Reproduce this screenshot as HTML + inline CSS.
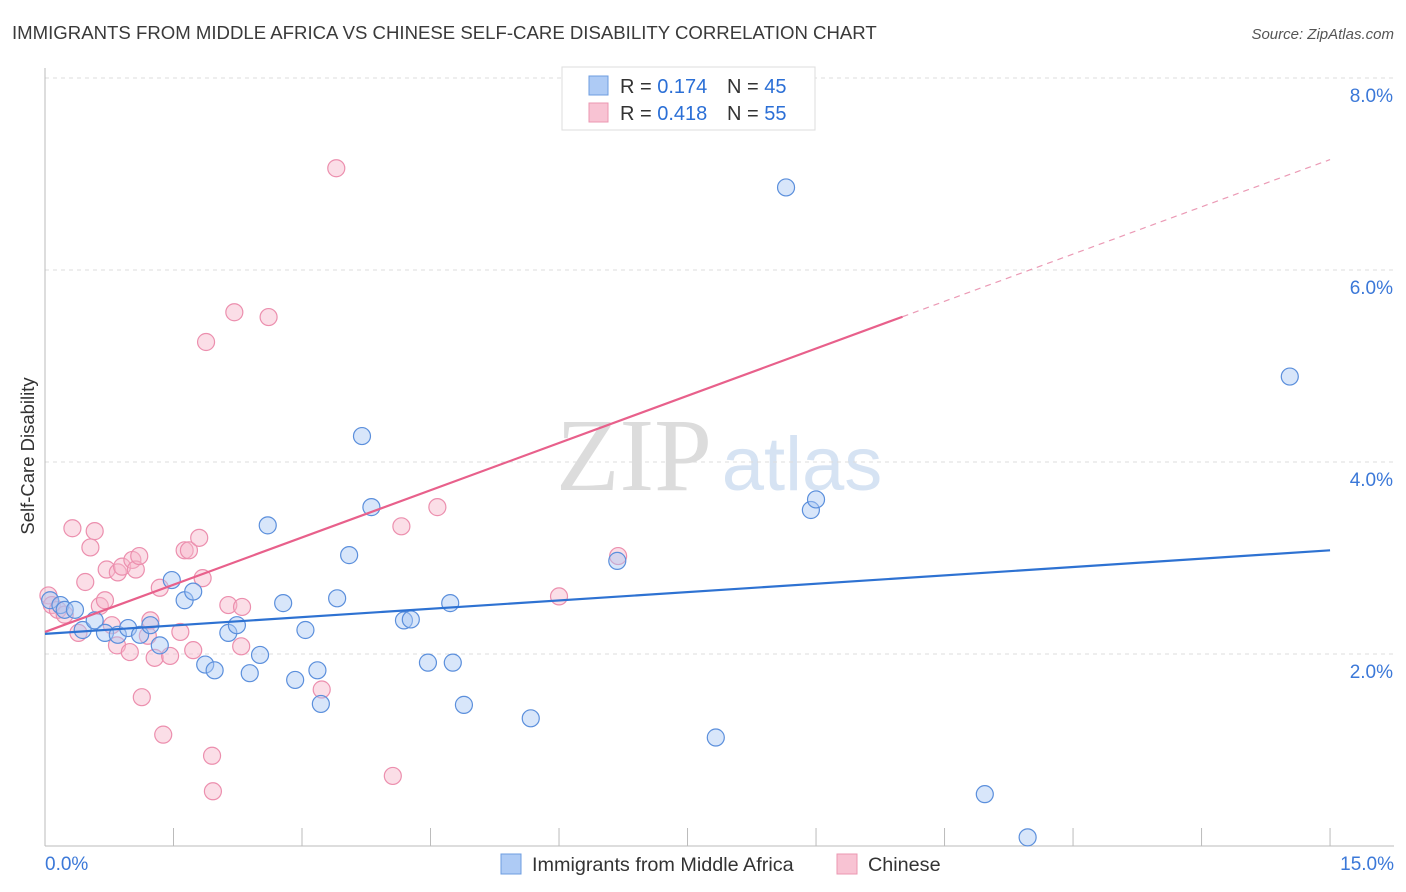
<!DOCTYPE html>
<html><head><meta charset="utf-8"><style>
body{margin:0;background:#fff;font-family:"Liberation Sans",sans-serif;}
#wrap{position:relative;width:1406px;height:892px;overflow:hidden;}
</style></head><body>
<div id="wrap">
<svg id="svg" width="1406" height="892" xmlns="http://www.w3.org/2000/svg">
<text x="12" y="39" font-size="18.6" fill="#3a3a3a">IMMIGRANTS FROM MIDDLE AFRICA VS CHINESE SELF-CARE DISABILITY CORRELATION CHART</text>
<text x="1394" y="39" font-size="15" fill="#555" font-style="italic" text-anchor="end">Source: ZipAtlas.com</text>
<text x="634" y="490" font-size="104" fill="#dcdcdc" font-family="Liberation Serif,serif" text-anchor="middle">ZIP</text>
<text x="802" y="490" font-size="76" fill="#d6e3f3" text-anchor="middle">atlas</text>
<text transform="translate(34,456) rotate(-90)" font-size="18.5" fill="#333" text-anchor="middle">Self-Care Disability</text>
<g id="grid"></g><g id="marks"></g>
<g>
<rect x="562" y="67" width="253" height="63" fill="#fff" stroke="#ddd"/>
<rect x="589" y="76" width="19" height="19" fill="#aecbf5" stroke="#6d9de0"/>
<rect x="589" y="103" width="19" height="19" fill="#f8c3d3" stroke="#eb97b2"/>
<text x="620" y="93" font-size="20" fill="#333">R = <tspan fill="#2b6fd6">0.174</tspan></text>
<text x="727" y="93" font-size="20" fill="#333">N = <tspan fill="#2b6fd6">45</tspan></text>
<text x="620" y="120" font-size="20" fill="#333">R = <tspan fill="#2b6fd6">0.418</tspan></text>
<text x="727" y="120" font-size="20" fill="#333">N = <tspan fill="#2b6fd6">55</tspan></text>
</g>
<g>
<rect x="501" y="854" width="20" height="20" fill="#aecbf5" stroke="#6d9de0"/>
<text x="532" y="871" font-size="19.8" fill="#333">Immigrants from Middle Africa</text>
<rect x="837" y="854" width="20" height="20" fill="#f8c3d3" stroke="#eb97b2"/>
<text x="868" y="871" font-size="19.8" fill="#333">Chinese</text>
</g>
</svg>
</div>
<script>
const blueX=[0.06,0.18,0.23,0.35,0.44,0.58,0.70,0.85,0.97,1.11,1.23,1.34,1.48,1.63,1.73,1.87,1.98,2.14,2.24,2.39,2.51,2.60,2.78,2.92,3.04,3.18,3.22,3.41,3.55,3.70,3.81,4.19,4.27,4.47,4.73,4.76,4.89,5.67,6.68,7.83,8.65,8.94,9.00,10.97,11.47,14.53];
const blueY=[2.56,2.51,2.46,2.46,2.25,2.35,2.22,2.20,2.27,2.20,2.30,2.09,2.77,2.56,2.65,1.89,1.83,2.22,2.30,1.80,1.99,3.34,2.53,1.73,2.25,1.83,1.48,2.58,3.03,4.27,3.53,2.35,2.36,1.91,2.53,1.91,1.47,1.33,2.97,1.13,6.86,3.50,3.61,0.54,0.09,4.89];
const pinkX=[0.04,0.08,0.15,0.23,0.32,0.39,0.47,0.53,0.58,0.64,0.70,0.72,0.78,0.84,0.85,0.90,0.99,1.02,1.06,1.10,1.13,1.20,1.23,1.28,1.34,1.38,1.46,1.58,1.63,1.68,1.73,1.80,1.84,1.88,1.95,1.96,2.14,2.21,2.29,2.30,2.61,3.23,3.40,4.06,4.16,4.58,6.00,6.69,8.29];
const pinkY=[2.61,2.51,2.46,2.41,3.31,2.22,2.75,3.11,3.28,2.50,2.56,2.88,2.30,2.09,2.85,2.91,2.02,2.98,2.88,3.02,1.55,2.19,2.35,1.96,2.69,1.16,1.98,2.23,3.08,3.08,2.04,3.21,2.79,5.25,0.94,0.57,2.51,5.56,2.08,2.49,5.51,1.63,7.06,0.73,3.33,3.53,2.60,3.02,7.98];
const blueTrend=[2.21,3.08];
const pinkTrend=[2.23,7.15];
const pinkSolidEnd=10.01;
const yTicks=[2,4,6,8];
const xTickLabels=["0.0%","15.0%"];
const NS="http://www.w3.org/2000/svg";
const xs=v=>45+v*85.67, ys=v=>846-v*96;
const grid=document.getElementById('grid'), marks=document.getElementById('marks');
function mk(tag,attrs,parent){const e=document.createElementNS(NS,tag);for(const k in attrs)e.setAttribute(k,attrs[k]);parent.appendChild(e);return e;}
yTicks.forEach(t=>{
 const l=mk('line',{x1:45,x2:1394,y1:ys(t),y2:ys(t),stroke:'#ddd','stroke-dasharray':'4,4'},grid);
 
 
 const tx=mk('text',{x:1393,y:ys(t)+24,'font-size':19,fill:'#3b78d8','text-anchor':'end'},grid);
 tx.textContent=t.toFixed(1)+'%';
 
 
});
const ax=mk('line',{x1:45,x2:1394,y1:846,y2:846,stroke:'#bbb'},grid);


const ay=mk('line',{x1:45,x2:45,y1:68,y2:846,stroke:'#bbb'},grid);


for(let i=0;i<=10;i++){const t=mk('line',{x1:xs(i*1.5),x2:xs(i*1.5),y1:828,y2:846,stroke:'#bbb'},grid);
 
 }
[[0,'start',45],[15,'end',1394]].forEach((a,i)=>{const t=mk('text',{x:a[2],y:870,'font-size':19,fill:'#3b78d8','text-anchor':a[1]},grid);t.textContent=xTickLabels[i];
 
 });
function dots(X,Y,fill,stroke,name){X.forEach((x,i)=>{const c=mk('circle',{cx:xs(x),cy:ys(Y[i]),r:8.5,fill:fill,'fill-opacity':0.45,stroke:stroke,'stroke-width':1.2},marks);
 
 });}
dots(pinkX,pinkY,'#f7b6ca','#ec8fae','point-chinese');
dots(blueX,blueY,'#a9c8f3','#5b8fdc','point-middle-africa');
const pslope=(pinkTrend[1]-pinkTrend[0])/15;
const pl=mk('line',{x1:xs(0),y1:ys(pinkTrend[0]),x2:xs(pinkSolidEnd),y2:ys(pinkTrend[0]+pslope*pinkSolidEnd),stroke:'#e8608b','stroke-width':2.2},marks);


const pd=mk('line',{x1:xs(pinkSolidEnd),y1:ys(pinkTrend[0]+pslope*pinkSolidEnd),x2:xs(15),y2:ys(pinkTrend[1]),stroke:'#eb9ab5','stroke-width':1.2,'stroke-dasharray':'6,5'},marks);


const bl=mk('line',{x1:xs(0),y1:ys(blueTrend[0]),x2:xs(15),y2:ys(blueTrend[1]),stroke:'#2e72d2','stroke-width':2.2},marks);


</script>
</body></html>
